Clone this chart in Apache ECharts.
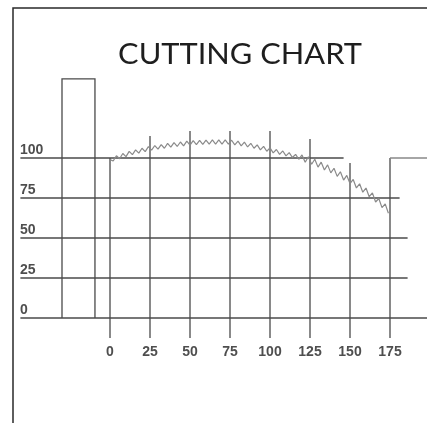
<!DOCTYPE html>
<html><head><meta charset="utf-8">
<script src="https://cdn.jsdelivr.net/npm/echarts@6/dist/echarts.min.js"></script>
<style>html,body{margin:0;padding:0;background:#fff}#c{width:427px;height:423px}</style>
</head><body><div id="c"></div>
<script>
// ---- data ----
var title = 'CUTTING CHART';
var xTicks = [0, 25, 50, 75, 100, 125, 150, 175];
var yTicks = [0, 25, 50, 75, 100];
// horizontal grid lines: [y, xStart, xEnd]
var hLines = [[0, -56, 200], [25, -56, 186], [50, -56, 186], [75, -56, 181], [100, -56, 146]];
// vertical grid lines: [x, yBottom, yTop]
var vLines = [[0, -12.5, 100], [25, -12.5, 113.8], [50, -12.5, 116.9], [75, -12.5, 116.9],
              [100, -12.5, 116.9], [125, -12.5, 111.9], [150, -12.5, 96.9], [175, -12.5, 100]];
// left tall box: [xLeft, xRight, top]
var leftBox = [-30, -9.4, 149.4];
// right box: [xLeft, xRight, top]
var rightBox = [175, 200, 100];
// cutting curve
var cutX = [0,2,4,6,8,10,12,14,16,18,20,22,24,26,28,30,32,34,36,38,40,42,44,46,48,50,52,54,56,58,60,62,64,66,68,70,72,74,76,78,80,82,84,86,88,90,92,94,96,98,100,102,104,106,108,110,112,114,116,118,120,122,124,126,128,130,132,134,136,138,140,142,144,146,148,150,152,154,156,158,160,162,164,166,168,170,172,174];
var cutY = [99.0,98.1,101.4,99.5,102.8,100.9,104.1,102.1,105.1,103.0,106.1,104.0,107.1,104.9,107.8,105.5,108.4,106.1,109.1,106.8,109.6,107.2,110.0,107.6,110.5,108.1,110.8,108.3,111.0,108.5,111.2,108.7,111.3,108.7,111.3,108.7,111.3,108.7,111.1,108.2,110.5,107.6,109.9,106.9,109.2,106.1,108.2,105.1,107.3,104.2,106.3,103.2,105.3,102.3,104.4,101.3,103.4,100.3,102.3,99.2,101.9,97.3,100.8,96.1,99.2,94.3,97.4,92.5,95.7,90.7,93.6,88.5,91.4,86.2,89.1,84.0,86.6,81.3,83.9,78.6,81.2,75.8,78.2,72.5,74.7,69.0,71.3,65.5];

// ---- build ----
var gridCol = '#4a4a4a';
var segs = [];
hLines.forEach(function (h) { segs.push({coords: [[h[1], h[0]], [h[2], h[0]]]}); });
vLines.forEach(function (v) { segs.push({coords: [[v[0], v[1]], [v[0], v[2]]]}); });
segs.push({coords: [[leftBox[0], 0], [leftBox[0], leftBox[2]], [leftBox[1], leftBox[2]], [leftBox[1], 0]]});
var rightSeg = [{coords: [[rightBox[0], rightBox[2]], [rightBox[1], rightBox[2]]]}];
var curve = cutX.map(function (x, i) { return [x, cutY[i]]; });

var chart = echarts.init(document.getElementById('c'), null, {renderer: 'canvas'});
chart.setOption({
  animation: false,
  grid: {left: 0, right: 0, top: 0, bottom: 0},
  xAxis: {type: 'value', min: -68.75, max: 198.125, show: false},
  yAxis: {type: 'value', min: -65.625, max: 198.75, show: false},
  graphic: [
    {type: 'polyline', shape: {points: [[13, 423], [13, 8], [427, 8]]}, style: {stroke: '#2a2a2a', lineWidth: 1.5, fill: null}},
    {type: 'text', x: 240, y: 55, scaleX: 1.1, scaleY: 1, originX: 0, originY: 0,
     style: {text: title, x: 0, y: 0, align: 'center', verticalAlign: 'middle',
      font: '28px Lato', fill: '#1e1e1e'}}
  ],
  series: [
    {type: 'lines', coordinateSystem: 'cartesian2d', polyline: true, silent: true,
     lineStyle: {color: gridCol, width: 1.3, opacity: 1}, data: segs},
    {type: 'lines', coordinateSystem: 'cartesian2d', polyline: true, silent: true,
     lineStyle: {color: '#888', width: 1.3, opacity: 1}, data: rightSeg},
    {type: 'line', data: curve, symbol: 'none', silent: true,
     lineStyle: {color: '#8a8a8a', width: 1.2}},
    {type: 'scatter', symbolSize: 0, silent: true,
     data: yTicks.map(function (t) { return [-56.25, t]; }),
     label: {show: true, position: [0, -8], align: 'left', verticalAlign: 'middle',
       formatter: function (p) { return String(p.value[1]); },
       fontFamily: 'Liberation Sans', fontWeight: 'bold', fontSize: 14, color: '#222'}},
    {type: 'scatter', symbolSize: 0, silent: true,
     data: xTicks.map(function (t) { return [t, -21.25]; }),
     label: {show: true, position: [0, 0], align: 'center', verticalAlign: 'middle',
       formatter: function (p) { return String(p.value[0]); },
       fontFamily: 'Liberation Sans', fontWeight: 'bold', fontSize: 14, color: '#222'}}
  ]
});
</script></body></html>
